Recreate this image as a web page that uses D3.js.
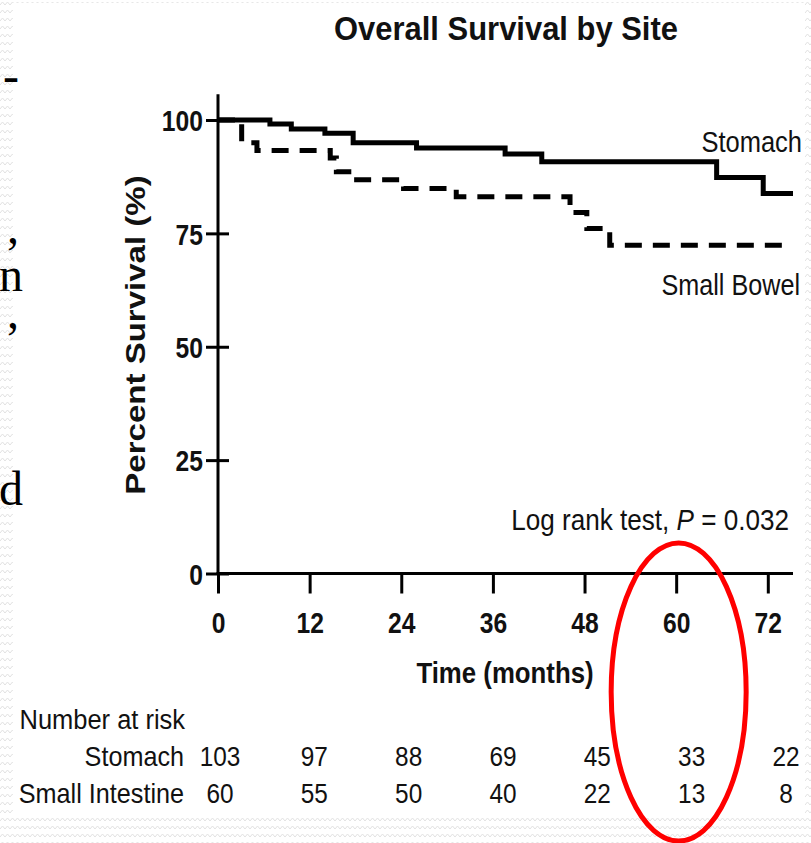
<!DOCTYPE html>
<html>
<head>
<meta charset="utf-8">
<script src="https://cdn.jsdelivr.net/npm/d3@7"></script>
<style>
  body { margin: 0; background: #fff; }
  svg { display: block; }
</style>
</head>
<body>
<svg id="chart"></svg>
<script>
// ---- data ----
var xTicks = [0, 12, 24, 36, 48, 60, 72];
var yTicks = [0, 25, 50, 75, 100];

// Kaplan-Meier steps: value holds from that time on
var stomachTime = [0, 6.8, 9.6, 14.0, 17.7, 26.0, 37.6, 42.4, 65.3, 71.4, 75.3];
var stomachSurv = [100, 99.1, 98.0, 97.1, 95.0, 93.8, 92.5, 90.8, 87.3, 83.8, 83.8];

var bowelTime = [0, 3.1, 5.1, 14.7, 15.5, 17.6, 24.3, 31.2, 46.1, 48.3, 51.3, 74.9];
var bowelSurv = [100, 95.0, 93.3, 91.6, 88.6, 86.8, 84.9, 83.1, 79.6, 76.1, 72.4, 72.4];

var riskTimes = [0, 12, 24, 36, 48, 60, 72];
var riskGroups = ["Stomach", "Small Intestine"];
var stomachRisk = [103, 97, 88, 69, 45, 33, 22];
var intestineRisk = [60, 55, 50, 40, 22, 13, 8];

// bits of the slide text cut off at the left edge
var slideBits = ["-", ",", "n", ",", "d"];

// ---- setup ----
var width = 811, height = 843;
var svg = d3.select("#chart").attr("width", width).attr("height", height);
var sans = "'Liberation Sans', Arial, Helvetica, sans-serif";

// slide background texture
var defs = svg.append("defs");
var pat = defs.append("pattern")
    .attr("id", "weave")
    .attr("patternUnits", "userSpaceOnUse")
    .attr("width", 10).attr("height", 8);
pat.append("rect").attr("width", 10).attr("height", 8).attr("fill", "#fff");
pat.append("path")
    .attr("d", "M0,5 L2.5,2 L5,5 L7.5,2 L10,5")
    .attr("fill", "none").attr("stroke", "#e2e2e2").attr("stroke-width", 1);

svg.append("rect").attr("width", width).attr("height", height).attr("fill", "url(#weave)");
svg.append("rect").attr("x", 13).attr("y", 3).attr("width", 792).attr("height", 812).attr("fill", "#fff");

// slide text fragments
var bitPos = [[19, 92], [19, 243], [23, 291], [19, 328], [23, 505]];
svg.append("g").selectAll("text")
    .data(slideBits)
    .join("text")
    .attr("x", function (d, i) { return bitPos[i][0]; })
    .attr("y", function (d, i) { return bitPos[i][1]; })
    .attr("text-anchor", "end")
    .style("font-family", "'Liberation Serif', 'Times New Roman', serif")
    .style("font-size", "48px")
    .attr("fill", "#000")
    .text(function (d) { return d; });

// helper for the squeezed text of the figure
function label(parent, txt, x, y, size, sx, opts) {
    opts = opts || {};
    var t = parent.append("text")
        .attr("transform", "translate(" + x + "," + y + ")" + (opts.rotate ? " rotate(" + opts.rotate + ")" : "") + " scale(" + sx + ",1)")
        .attr("text-anchor", opts.anchor || "start")
        .style("font-family", sans)
        .style("font-size", size + "px")
        .style("font-weight", opts.bold ? "bold" : "normal")
        .attr("fill", "#111");
    if (txt !== null) t.text(txt);
    return t;
}

// ---- scales ----
var x = d3.scaleLinear().domain([0, 75.3]).range([218, 793]);
var y = d3.scaleLinear().domain([0, 100]).range([573.5, 120]);

// ---- title ----
label(svg, "Overall Survival by Site", 506, 40, 34, 0.91, { anchor: "middle", bold: true });

// ---- axes ----
var yAxis = svg.append("g")
    .attr("transform", "translate(" + x(0) + ",0)")
    .call(d3.axisLeft(y).tickValues(yTicks).tickSize(12).tickFormat(d3.format("d")));
yAxis.select(".domain").remove();
yAxis.selectAll(".tick line").attr("x1", 11).attr("x2", -12).attr("stroke", "#000").attr("stroke-width", 3);
yAxis.selectAll(".tick text")
    .attr("x", null).attr("dy", "0.37em")
    .attr("transform", "translate(-15,0) scale(0.85,1)")
    .style("font-family", sans).style("font-size", "29px").style("font-weight", "bold")
    .attr("fill", "#111");

var xAxis = svg.append("g")
    .attr("transform", "translate(0," + y(0) + ")")
    .call(d3.axisBottom(x).tickValues(xTicks).tickSize(20).tickFormat(d3.format("d")));
xAxis.select(".domain").remove();
xAxis.selectAll(".tick line").attr("stroke", "#000").attr("stroke-width", 3);
xAxis.selectAll(".tick text")
    .attr("y", null).attr("dy", null)
    .attr("transform", "translate(0,59) scale(0.85,1)")
    .style("font-family", sans).style("font-size", "29px").style("font-weight", "bold")
    .attr("fill", "#111");

// axis lines
svg.append("line")
    .attr("x1", x(0)).attr("x2", x(0))
    .attr("y1", y(105.7)).attr("y2", y(0))
    .attr("stroke", "#000").attr("stroke-width", 3);
svg.append("line")
    .attr("x1", x(0) - 1.5).attr("x2", x(75.3))
    .attr("y1", y(0)).attr("y2", y(0))
    .attr("stroke", "#000").attr("stroke-width", 3);

label(svg, "Time (months)", 505, 683, 30, 0.86, { anchor: "middle", bold: true });
label(svg, "Percent Survival (%)", 145, 335, 28, 1.18, { anchor: "middle", bold: true, rotate: -90 });

// ---- survival curves ----
var step = d3.line()
    .x(function (d) { return x(d[0]); })
    .y(function (d) { return y(d[1]); })
    .curve(d3.curveStepAfter);

svg.append("path")
    .datum(d3.zip(bowelTime, bowelSurv))
    .attr("d", step)
    .attr("fill", "none")
    .attr("stroke", "#000")
    .attr("stroke-width", 5)
    .attr("stroke-dasharray", "17,11");

svg.append("path")
    .datum(d3.zip(stomachTime, stomachSurv))
    .attr("d", step)
    .attr("fill", "none")
    .attr("stroke", "#000")
    .attr("stroke-width", 5);

label(svg, "Stomach", 802, 152, 30, 0.85, { anchor: "end" });
label(svg, "Small Bowel", 800, 295, 30, 0.84, { anchor: "end" });

var lr = label(svg, null, 789, 530, 30, 0.87, { anchor: "end" });
lr.append("tspan").text("Log rank test, ");
lr.append("tspan").style("font-style", "italic").text("P");
lr.append("tspan").text(" = 0.032");

// ---- number at risk table ----
var col = d3.scalePoint().domain(riskTimes).range([220, 786]);
var rowY = [766, 803];
var riskRows = [stomachRisk, intestineRisk];

label(svg, "Number at risk", 19.5, 729, 28, 0.91);
riskGroups.forEach(function (name, r) {
    label(svg, name, 184, rowY[r], 28, 0.9, { anchor: "end" });
    riskRows[r].forEach(function (v, i) {
        label(svg, String(v), col(riskTimes[i]), rowY[r], 28, 0.87, { anchor: "middle" });
    });
});

// ---- red marker drawn on the slide round the 60 month column ----
svg.append("ellipse")
    .attr("cx", col(60) - 13).attr("cy", 692)
    .attr("rx", 67.5).attr("ry", 149)
    .attr("fill", "none")
    .attr("stroke", "#f00")
    .attr("stroke-width", 5);
</script>
</body>
</html>
